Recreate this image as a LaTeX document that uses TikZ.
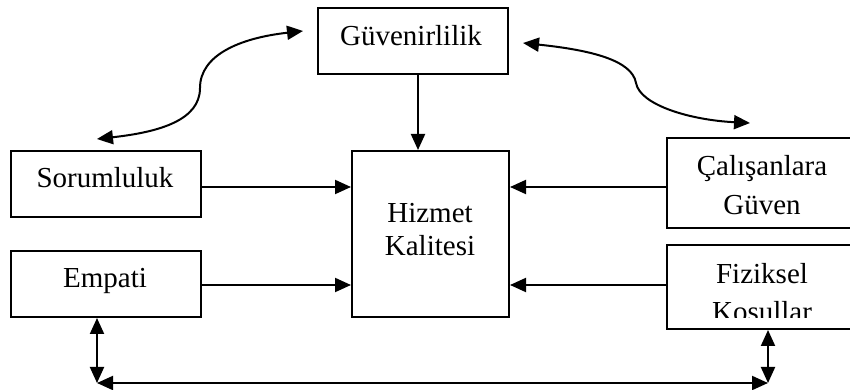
\documentclass[tikz,border=0pt]{standalone}
\usepackage{fontspec}
\setmainfont{Liberation Serif}
\usetikzlibrary{arrows.meta}
\begin{document}
\begin{tikzpicture}[x=1pt,y=1pt,
  box/.style={draw=black, line width=2pt, inner sep=0pt, minimum width=190pt, minimum height=66pt},
  lbl/.style={anchor=base, inner sep=0pt, font=\fontsize{29}{34}\selectfont},
  tip/.style={},
  arr/.style={line width=2pt, -{Triangle[length=16pt,width=14pt]}},
  darr/.style={line width=2pt, {Triangle[length=16pt,width=14pt]}-{Triangle[length=16pt,width=14pt]}}]
\clip (0,0) rectangle (850,390);
\fill[white] (0,0) rectangle (850,390);
% boxes
\node[box] (gv) at (413,349) {};
\node[box, minimum width=157pt, minimum height=166pt] (hk) at (430.5,156) {};
\node[box] (sr) at (106,206) {};
\node[box] (em) at (106,106) {};
\node[box, minimum height=90pt] (cg) at (762,207) {};
\node[box, minimum height=84pt] (fk) at (762,103) {};
% texts
\node[lbl] (tgv) at (411,344) {Güvenirlilik};
\node[lbl] (tsr) at (105,202) {Sorumluluk};
\node[lbl] (tem) at (105,102) {Empati};
\node[lbl] (thk1) at (430,167) {Hizmet};
\node[lbl] (thk2) at (430,134) {Kalitesi};
\node[lbl] (tcg1) at (762,214) {Çalışanlara};
\node[lbl] (tcg2) at (762,175) {Güven};
\node[lbl] (tfk1) at (762,106) {Fiziksel};
\begin{scope}
\clip (667,72) rectangle (860,145);
\node[lbl] (tfk2) at (762,68) {Kosullar};
\end{scope}
% straight arrows
\draw[arr] ([xshift=5pt]gv.south) -- ([xshift=5pt]gv.south |- hk.north);
\draw[arr] ([yshift=-3pt]sr.east) -- ([yshift=-3pt]sr.east -| hk.west);
\draw[arr] ([yshift=-1pt]em.east) -- ([yshift=-1pt]em.east -| hk.west);
\draw[arr] ([yshift=-4pt]cg.west) -- ([yshift=-4pt]cg.west -| hk.east);
\draw[arr] ([yshift=2pt]fk.west) -- ([yshift=2pt]fk.west -| hk.east);
% bottom loop
\coordinate (bl) at (97,7);
\coordinate (br) at (768,7);
\draw[darr] (em.south -| bl) -- (bl);
\draw[darr] (fk.south -| br) -- (br);
\draw[darr] (bl) -- (br);
% curved arrows
\coordinate (c1) at (97,251);
\coordinate (c2) at (303,359);
\draw[darr] (c1) .. controls (160,258) and (200,270) .. (200,302) .. controls (200,335) and (240,352) .. (c2);
\coordinate (c3) at (523,347);
\coordinate (c4) at (750,267);
\draw[darr] (c3) .. controls (590,340) and (632,330) .. (636,307) .. controls (640,285) and (690,270) .. (c4);
\end{tikzpicture}
\end{document}
